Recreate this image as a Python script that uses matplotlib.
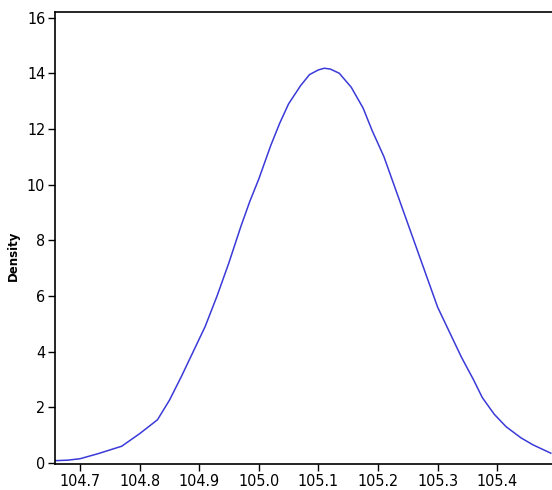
import matplotlib
matplotlib.use("Agg")
import matplotlib.pyplot as plt

# density curve
x_vals = [104.658, 104.68, 104.70, 104.73, 104.77, 104.80, 104.83, 104.85, 104.87,
          104.89, 104.91, 104.93, 104.95, 104.97, 104.985, 105.00, 105.02, 105.035,
          105.05, 105.07, 105.085, 105.10, 105.11, 105.12, 105.135, 105.155, 105.175,
          105.19, 105.21, 105.225, 105.24, 105.255, 105.27, 105.285, 105.30, 105.32,
          105.34, 105.36, 105.375, 105.395, 105.415, 105.44, 105.46, 105.49]
density = [0.08, 0.1, 0.15, 0.33, 0.6, 1.05, 1.55, 2.25, 3.1,
           4.0, 4.9, 6.0, 7.2, 8.5, 9.4, 10.2, 11.4, 12.2,
           12.9, 13.55, 13.95, 14.12, 14.18, 14.15, 14.0, 13.5, 12.75,
           11.95, 11.0, 10.1, 9.2, 8.3, 7.4, 6.5, 5.6, 4.7,
           3.8, 3.0, 2.35, 1.75, 1.3, 0.9, 0.65, 0.35]
x_ticks = [104.7, 104.8, 104.9, 105.0, 105.1, 105.2, 105.3, 105.4]
y_ticks = [0, 2, 4, 6, 8, 10, 12, 14, 16]

tick_kw = dict(fontfamily="DejaVu Sans", fontstretch="condensed", fontsize=11.5)

fig = plt.figure(figsize=(5.52, 4.90), dpi=100)
ax = fig.add_axes([0.0996, 0.053, 0.9004, 0.9225])

ax.plot(x_vals, density, color="#3a3ad8", linewidth=1.1)

ax.set_xlim(104.658, 105.492)
ax.set_ylim(-0.04, 16.2)
ax.set_xticks(x_ticks)
ax.set_xticklabels([f"{t:.1f}" for t in x_ticks], **tick_kw)
ax.set_yticks(y_ticks)
ax.set_yticklabels([str(t) for t in y_ticks], **tick_kw)
ax.tick_params(direction="out", length=5, width=1, pad=2)
ax.spines["right"].set_visible(False)
for s in ["left", "top", "bottom"]:
    ax.spines[s].set_linewidth(1.2)

ax.set_ylabel("Density", fontsize=8.5, fontweight="bold")
ax.yaxis.set_label_coords(-0.07, 0.46)

fig.savefig("out.png", dpi=100)
